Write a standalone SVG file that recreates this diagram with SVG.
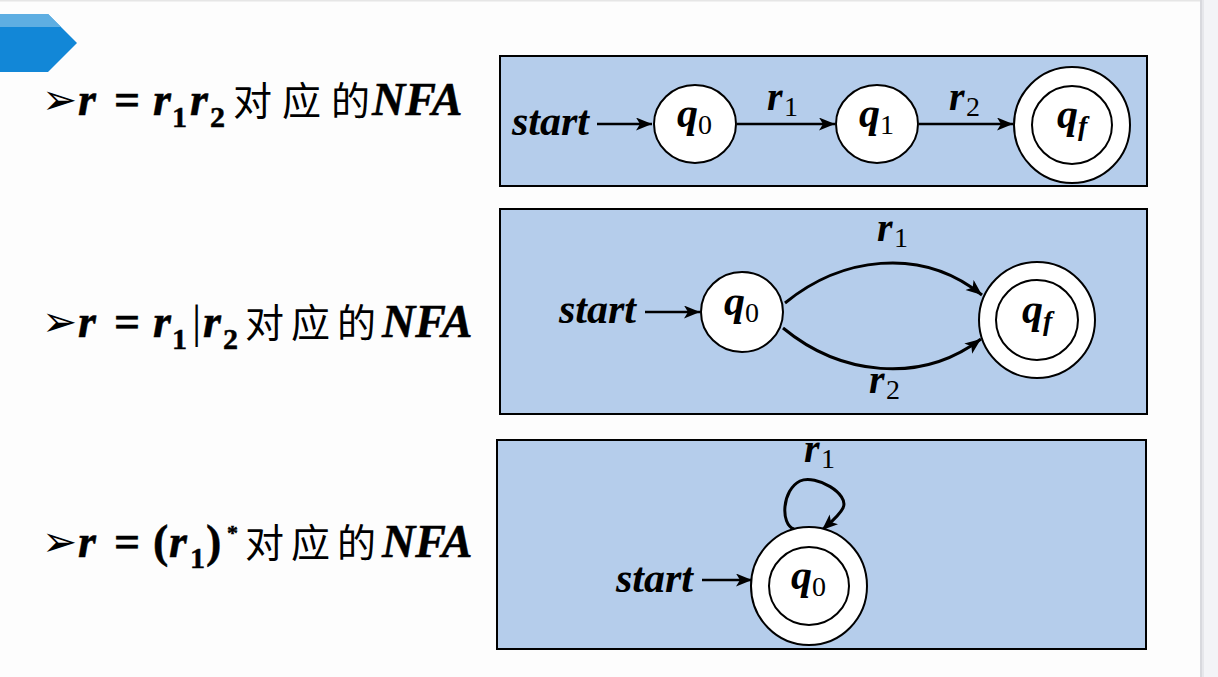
<svg xmlns="http://www.w3.org/2000/svg" width="1218" height="677" viewBox="0 0 1218 677">
<style>
.bi{font-family:"Liberation Serif","Times New Roman",serif;font-weight:bold;font-style:italic}
.b{font-family:"Liberation Serif","Times New Roman",serif;font-weight:bold}
.n{font-family:"Liberation Serif","Times New Roman",serif;font-weight:normal}
.cjk{font-family:"Noto Sans CJK SC",sans-serif;font-weight:normal}
.bul{font-family:"DejaVu Sans",sans-serif}
.row{stroke:#000;stroke-width:0.5}
.box{fill:#b5cdeb;stroke:#000;stroke-width:2}
.st{fill:#fff;stroke:#000;stroke-width:2}
.edge{fill:none;stroke:#000;stroke-width:3}
.edge2{fill:none;stroke:#000;stroke-width:2.5}
</style>
<defs>
<marker id="ah" markerUnits="userSpaceOnUse" markerWidth="17" markerHeight="14" refX="16" refY="6.5" orient="auto">
<path d="M0,0 L16,6.5 L0,13 L4,6.5 z" fill="#000"/>
</marker>
</defs>
<rect x="0" y="0" width="1218" height="677" fill="#fdfdfd"/>
<rect x="0" y="0" width="1218" height="1.5" fill="#e6e6e6"/>
<rect x="1200" y="0" width="18" height="677" fill="#f3f4f7"/>
<rect x="1200" y="0" width="2" height="677" fill="#d8d9de"/>
<rect x="1202" y="0" width="2" height="677" fill="#e6e7eb"/>
<g id="tab">
<polygon points="0,14 48,14 77,43 48,72 0,72" fill="#1287d7"/>
<polygon points="0,14 48,14 61,27 0,27" fill="#5eaee2"/>
</g>
<g id="row1">
<text class="bul" x="42" y="114" font-size="42">➢</text>
<text class="row" y="115" font-size="46"><tspan class="bi" x="78" y="115">r</tspan><tspan class="b" x="114">=</tspan><tspan class="bi" x="153">r</tspan><tspan class="b" x="172" y="127" font-size="30">1</tspan><tspan class="bi" x="190" y="115">r</tspan><tspan class="b" x="210" y="127" font-size="30">2</tspan><tspan class="cjk" x="233" y="115" font-size="39" letter-spacing="10" stroke="none">对应的</tspan><tspan class="bi" x="372">NFA</tspan></text>
</g>
<g id="row2">
<text class="bul" x="42" y="336" font-size="42">➢</text>
<text class="row" y="337" font-size="46"><tspan class="bi" x="78" y="337">r</tspan><tspan class="b" x="114">=</tspan><tspan class="bi" x="153">r</tspan><tspan class="b" x="172" y="349" font-size="30">1</tspan><tspan class="n" x="192" y="337" stroke="none">|</tspan><tspan class="bi" x="203">r</tspan><tspan class="b" x="223" y="349" font-size="30">2</tspan><tspan class="cjk" x="245" y="337" font-size="39" letter-spacing="7" stroke="none">对应的</tspan><tspan class="bi" x="382">NFA</tspan></text>
</g>
<g id="row3">
<text class="bul" x="42" y="556" font-size="42">➢</text>
<text class="row" y="557" font-size="46"><tspan class="bi" x="78" y="557">r</tspan><tspan class="b" x="114">=</tspan><tspan class="b" x="153">(</tspan><tspan class="bi" x="169">r</tspan><tspan class="b" x="190" y="568" font-size="30">1</tspan><tspan class="b" x="206" y="557">)</tspan><tspan class="b" x="227" y="540" font-size="22">*</tspan><tspan class="cjk" x="245" y="557" font-size="39" letter-spacing="7" stroke="none">对应的</tspan><tspan class="bi" x="382">NFA</tspan></text>
</g>
<rect id="box1" class="box" x="500" y="56" width="647" height="130"/>
<rect id="box2" class="box" x="500" y="209" width="647" height="205"/>
<rect id="box3" class="box" x="497" y="440" width="649" height="209"/>
<g id="connectors">
<line class="edge2" x1="597" y1="124" x2="652" y2="124" marker-end="url(#ah)"/>
<line class="edge2" x1="737" y1="124" x2="835" y2="124" marker-end="url(#ah)"/>
<line class="edge2" x1="919" y1="124" x2="1013" y2="124" marker-end="url(#ah)"/>
<line class="edge2" x1="645" y1="312" x2="700" y2="312" marker-end="url(#ah)"/>
<path class="edge" d="M785,303 C840,258 920,245 982,295" marker-end="url(#ah)"/>
<path class="edge" d="M783,328 C840,375 920,385 981,339" marker-end="url(#ah)"/>
<line class="edge2" x1="702" y1="580" x2="752" y2="580" marker-end="url(#ah)"/>
<path class="edge" d="M794,529 C780,524 782,490 800,481 C816,474 850,494 843,508 C839,516 831,522 822,530" marker-end="url(#ah)"/>
<text class="bi" x="767" y="110" font-size="40">r</text>
<text class="n" x="784" y="116" font-size="28">1</text>
<text class="bi" x="949" y="110" font-size="40">r</text>
<text class="n" x="966" y="116" font-size="28">2</text>
<text class="bi" x="877" y="241" font-size="40">r</text>
<text class="n" x="894" y="247" font-size="28">1</text>
<text class="bi" x="869" y="393" font-size="40">r</text>
<text class="n" x="886" y="399" font-size="28">2</text>
<text class="bi" x="804" y="462" font-size="40">r</text>
<text class="n" x="821" y="468" font-size="28">1</text>
<text class="bi" x="512" y="135" font-size="42">start</text>
<text class="bi" x="559" y="323" font-size="42">start</text>
<text class="bi" x="616" y="592" font-size="42">start</text>
</g>
<g id="b1q0">
<ellipse class="st" cx="695" cy="124" rx="41" ry="39"/>
<text x="677" y="127" font-size="42"><tspan class="bi">q</tspan><tspan class="n" font-size="28" y="134">0</tspan></text>
</g>
<g id="b1q1">
<ellipse class="st" cx="877" cy="124" rx="41" ry="39"/>
<text x="859" y="127" font-size="42"><tspan class="bi">q</tspan><tspan class="n" font-size="28" y="134">1</tspan></text>
</g>
<g id="b1qf">
<ellipse class="st" cx="1072" cy="125" rx="58" ry="58"/>
<ellipse class="st" cx="1072" cy="125" rx="40" ry="39"/>
<text x="1057" y="128" font-size="42"><tspan class="bi">q</tspan><tspan class="bi" font-size="28" y="135">f</tspan></text>
</g>
<g id="b2q0">
<ellipse class="st" cx="742" cy="312" rx="41" ry="40"/>
<text x="724" y="315" font-size="42"><tspan class="bi">q</tspan><tspan class="n" font-size="28" y="322">0</tspan></text>
</g>
<g id="b2qf">
<ellipse class="st" cx="1037" cy="320" rx="58" ry="58"/>
<ellipse class="st" cx="1037" cy="320" rx="41" ry="40"/>
<text x="1022" y="323" font-size="42"><tspan class="bi">q</tspan><tspan class="bi" font-size="28" y="330">f</tspan></text>
</g>
<g id="b3q0">
<ellipse class="st" cx="809" cy="586" rx="58" ry="59"/>
<ellipse class="st" cx="809" cy="586" rx="40" ry="39"/>
<text x="791" y="589" font-size="42"><tspan class="bi">q</tspan><tspan class="n" font-size="28" y="596">0</tspan></text>
</g>
</svg>
